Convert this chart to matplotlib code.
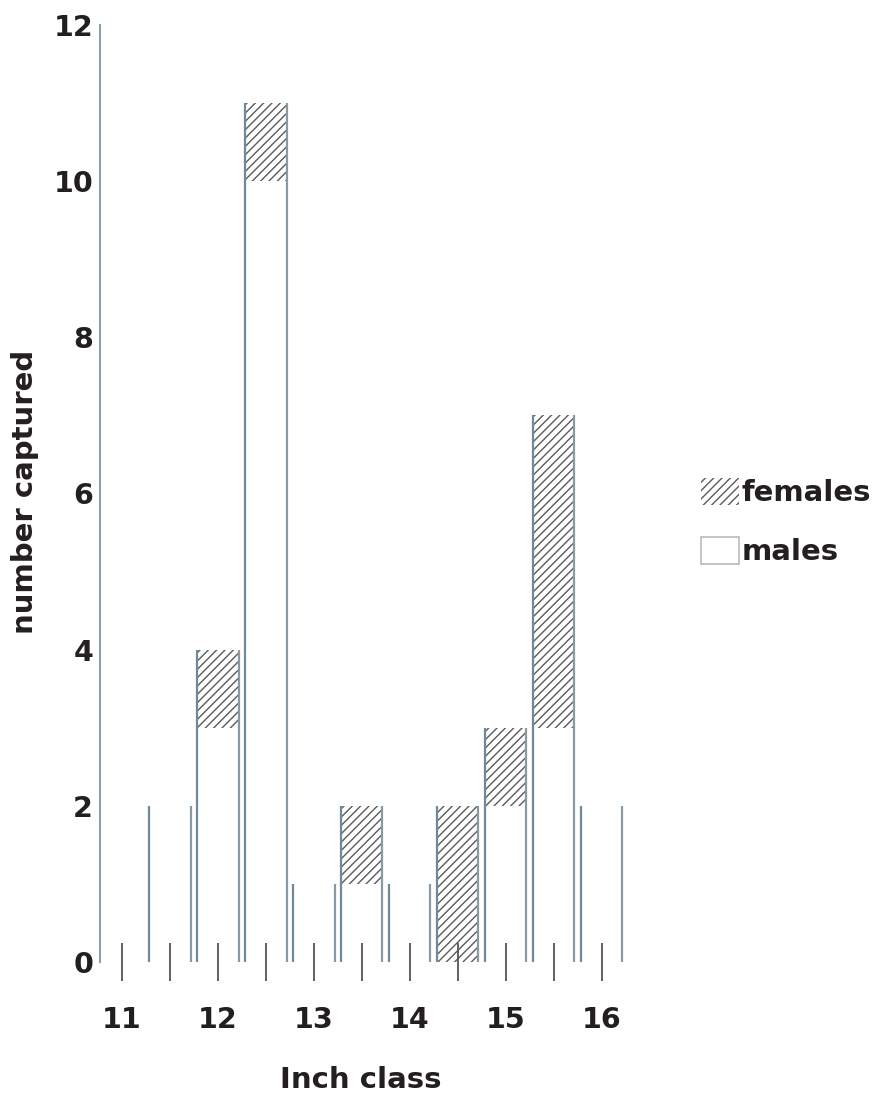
import numpy as np
import matplotlib
matplotlib.use("Agg")
import matplotlib.pyplot as plt
from matplotlib.patches import Patch

# inch classes with catches (bar centres), counts
inch_class = [11.5, 12, 12.5, 13, 13.5, 14, 14.5, 15, 15.5, 16]
males = [2, 3, 10, 1, 1, 1, 0, 2, 3, 2]
females = [0, 1, 1, 0, 1, 0, 2, 1, 4, 0]
major_ticks = [11, 12, 13, 14, 15, 16]
minor_ticks = [11.5, 12.5, 13.5, 14.5, 15.5]
y_ticks = [0, 2, 4, 6, 8, 10, 12]

plt.rcParams['font.family'] = ['DejaVu Sans']
plt.rcParams['font.weight'] = 'bold'
plt.rcParams['hatch.linewidth'] = 1.0

W = 0.43
EDGE = '#6f8b99'
TXT = '#231f20'
HATCH = '#5a5a5a'

fig = plt.figure(figsize=(8.85, 11), dpi=100)
ax = fig.add_axes([100/885, 1 - 962/1100, 540/885, 937/1100])

x = np.array(inch_class)
m = np.array(males)
f = np.array(females)

ax.bar(x, m, width=W, color='white', linewidth=0)
ax.bar(x, f, width=W, bottom=m, color='white', edgecolor=HATCH,
       hatch='////', linewidth=0)
# only the side edges of the bars show on the original
tot = m + f
ax.vlines(x - W/2, 0, tot, color=EDGE, lw=1.6)
ax.vlines(x + W/2, 0, tot, color='#8a9aa2', lw=1.6)

ax.set_xlim(10.77, 16.4)
ax.set_ylim(0, 12)
ax.set_xticks(major_ticks)
ax.set_xticks(minor_ticks, minor=True)
ax.set_yticks(y_ticks)
ax.tick_params(axis='x', which='both', direction='inout', length=28,
               width=1.3, color='#555555', pad=18, labelsize=20.5,
               labelcolor=TXT)
ax.tick_params(axis='y', length=0, pad=5, labelsize=20.5, labelcolor=TXT)

for s in ['top', 'right', 'bottom']:
    ax.spines[s].set_visible(False)
ax.spines['left'].set_color('#8aa0aa')
ax.spines['left'].set_linewidth(1.5)

fig.text(361/885, 1 - 1080/1100, 'Inch class', ha='center', va='center',
         fontsize=21, fontweight='bold', color=TXT)
fig.text(25/885, 1 - 492/1100, 'number captured', ha='center', va='center',
         rotation=90, fontsize=21, fontweight='bold', color=TXT)

handles = [Patch(facecolor='white', edgecolor=HATCH, hatch='////', linewidth=0),
           Patch(facecolor='white', edgecolor='#bbbbbb', linewidth=1.2)]
leg = fig.legend(handles, ['females', 'males'], loc='center left',
                 bbox_to_anchor=(686/885, 1 - 522/1100), frameon=False,
                 fontsize=21, handlelength=1.3, handleheight=1.05,
                 handletextpad=0.1, labelspacing=1.0, borderpad=0)
for t in leg.get_texts():
    t.set_color(TXT)

fig.savefig('out.png', dpi=100)
